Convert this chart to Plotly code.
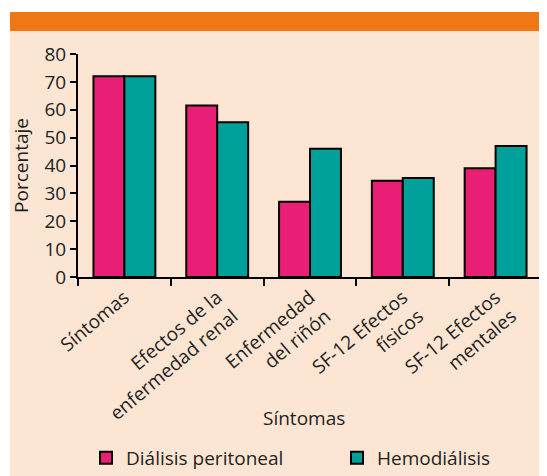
import plotly.graph_objects as go

categories = ["Síntomas", "Efectos de la<br>enfermedad renal", "Enfermedad<br>del riñón",
              "SF-12 Efectos<br>físicos", "SF-12 Efectos<br>mentales"]
dialisis_peritoneal = [72, 61.5, 27, 34.5, 39]
hemodialisis = [72, 55.5, 46, 35.5, 47]
y_ticks = [0, 10, 20, 30, 40, 50, 60, 70, 80]

PINK = "#E81F74"
TEAL = "#00A09A"
PEACH = "#FDE5D4"
ORANGE = "#F07814"
FONT = "Open Sans"

# the page adds an 8px body margin, so the figure is drawn 8px smaller
OFF = 8
W, H = 547 - OFF, 476 - OFF
L, R, T, B = 78 - OFF, 5, 54 - OFF, 199
pw, ph = W - L - R, H - T - B

def px_x(p):  # page pixel -> paper x
    return (p - OFF - L) / pw

def px_y(p):  # page pixel -> paper y
    return (H - B - (p - OFF)) / ph

fig = go.Figure()
fig.add_trace(go.Bar(x=categories, y=dialisis_peritoneal, name="Diálisis peritoneal",
                     marker=dict(color=PINK, line=dict(color="black", width=2)),
                     legend="legend"))
fig.add_trace(go.Bar(x=categories, y=hemodialisis, name="Hemodiálisis",
                     marker=dict(color=TEAL, line=dict(color="black", width=2)),
                     legend="legend2"))

legend_common = dict(orientation="h", xanchor="left", yanchor="bottom",
                     bgcolor="rgba(0,0,0,0)", font=dict(size=19, family=FONT),
                     itemwidth=30)

fig.update_layout(
    width=W, height=H,
    margin=dict(l=L, r=R, t=T, b=B, pad=0, autoexpand=False),
    paper_bgcolor=PEACH, plot_bgcolor=PEACH,
    barmode="group", bargap=0.333, bargroupgap=0,
    font=dict(family=FONT, size=19, color="#231F20"),
    showlegend=True,
    legend=dict(x=px_x(86), y=px_y(477), **legend_common),
    legend2=dict(x=px_x(337), y=px_y(477), **legend_common),
    shapes=[
        dict(type="rect", xref="paper", yref="paper", x0=px_x(0), x1=px_x(560), y0=px_y(0), y1=px_y(12),
             fillcolor="white", line=dict(width=0), layer="below"),
        dict(type="rect", xref="paper", yref="paper", x0=px_x(0), x1=px_x(10), y0=px_y(0), y1=px_y(490),
             fillcolor="white", line=dict(width=0), layer="below"),
        dict(type="rect", xref="paper", yref="paper", x0=px_x(10), x1=px_x(560), y0=px_y(12), y1=px_y(31),
             fillcolor=ORANGE, line=dict(width=0), layer="below"),
    ],
    annotations=[
        dict(text="Síntomas", xref="paper", yref="paper", x=px_x(304), y=px_y(418),
             xanchor="center", yanchor="middle", showarrow=False, font=dict(size=19, family=FONT)),
    ],
)

fig.update_xaxes(
    automargin=False,
    showline=True, linecolor="black", linewidth=2,
    ticks="outside", tickson="boundaries", ticklen=7, tickwidth=2, tickcolor="black",
    tickangle=-40, tickfont=dict(size=19),
    showgrid=False, zeroline=False,
)
fig.update_yaxes(
    automargin=False,
    range=[0, 80], tickvals=y_ticks,
    showline=True, linecolor="black", linewidth=2,
    ticks="outside", ticklen=6, tickwidth=2, tickcolor="black",
    tickfont=dict(size=19),
    showgrid=False, zeroline=False,
    title=dict(text="Porcentaje", font=dict(size=19), standoff=11),
)

fig.write_html("out.html")
